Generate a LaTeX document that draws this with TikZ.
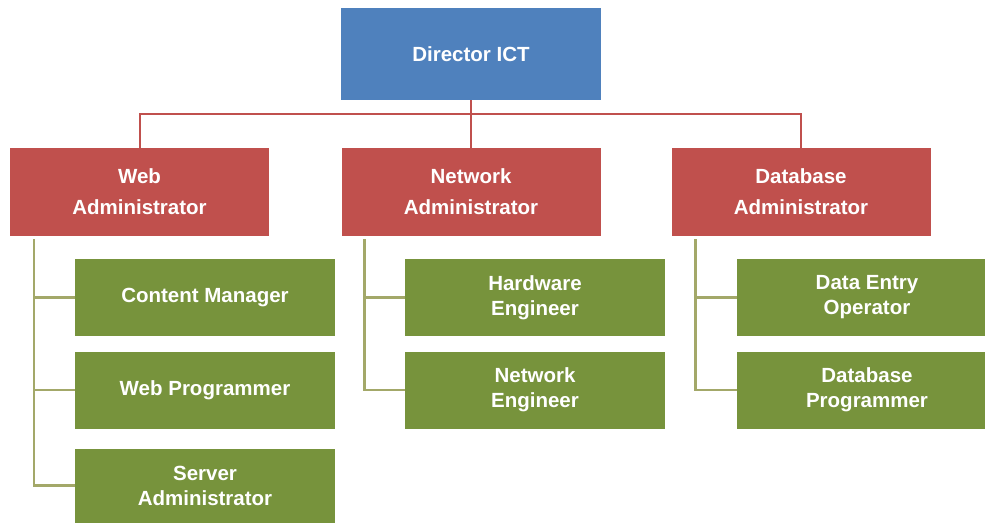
\documentclass[tikz,border=0pt]{standalone}
\usepackage{fontspec}
\setmainfont{Liberation Sans}
\usetikzlibrary{calc}
\begin{document}
\begin{tikzpicture}[x=1pt,y=-1pt,
  box/.style={draw=none,inner sep=0pt,align=center,text=white,font=\bfseries\fontsize{20.5}{25}\selectfont},
  bluebox/.style={box,fill=blueC,minimum width=260pt,minimum height=92pt},
  redbox/.style={box,fill=redC,minimum width=259pt,minimum height=88pt,font=\bfseries\fontsize{20.5}{31}\selectfont},
  greenbox/.style={box,fill=greenC,minimum width=260pt,minimum height=77pt},
  redline/.style={draw=redC,line width=2pt},
  greenline/.style={draw=lineG,line width=2.5pt}]
\definecolor{blueC}{HTML}{4F81BD}
\definecolor{redC}{HTML}{C0504D}
\definecolor{greenC}{HTML}{77933C}
\definecolor{lineG}{HTML}{A3A869}
\clip (0,0) rectangle (985,522);
\fill[white] (0,0) rectangle (985,522);
% top
\node[bluebox] (dir) at (471,54) {Director ICT};
% second level
\node[redbox] (web) at (139.5,192) {Web\\Administrator};
\node[redbox] (net) at (471,192) {Network\\Administrator};
\node[redbox] (db) at (801,192) {Database\\Administrator};
% third level
\node[greenbox] (cm) at (205,297.5) {Content Manager};
\node[greenbox] (wp) at (205,390) {Web Programmer};
\node[greenbox,minimum height=74pt] (sa) at (205,485.5) {Server\\Administrator};
\node[greenbox] (hw) at (535,297.5) {Hardware\\Engineer};
\node[greenbox] (ne) at (535,390) {Network\\Engineer};
\node[greenbox] (de) at (867,297.5) {Data Entry\\Operator};
\node[greenbox] (dp) at (867,390) {Database\\Programmer};
% red connectors
\coordinate (bus) at ($(dir.south)+(0,14)$);
\draw[redline] (dir.south) -- (net.north);
\draw[redline] (web.north) |- (dir.south |- bus) -| (db.north);
% green connectors
\coordinate (wv) at ([xshift=24pt,yshift=-3pt]web.south west);
\coordinate (nv) at ([xshift=23pt,yshift=-3pt]net.south west);
\coordinate (dv) at ([xshift=24pt,yshift=-3pt]db.south west);
\draw[greenline] (wv) |- (sa.west);
\draw[greenline] (wv |- cm.west) -- (cm.west);
\draw[greenline] (wv |- wp.west) -- (wp.west);
\draw[greenline] (nv) |- (ne.west);
\draw[greenline] (nv |- hw.west) -- (hw.west);
\draw[greenline] (dv) |- (dp.west);
\draw[greenline] (dv |- de.west) -- (de.west);
\end{tikzpicture}
\end{document}
